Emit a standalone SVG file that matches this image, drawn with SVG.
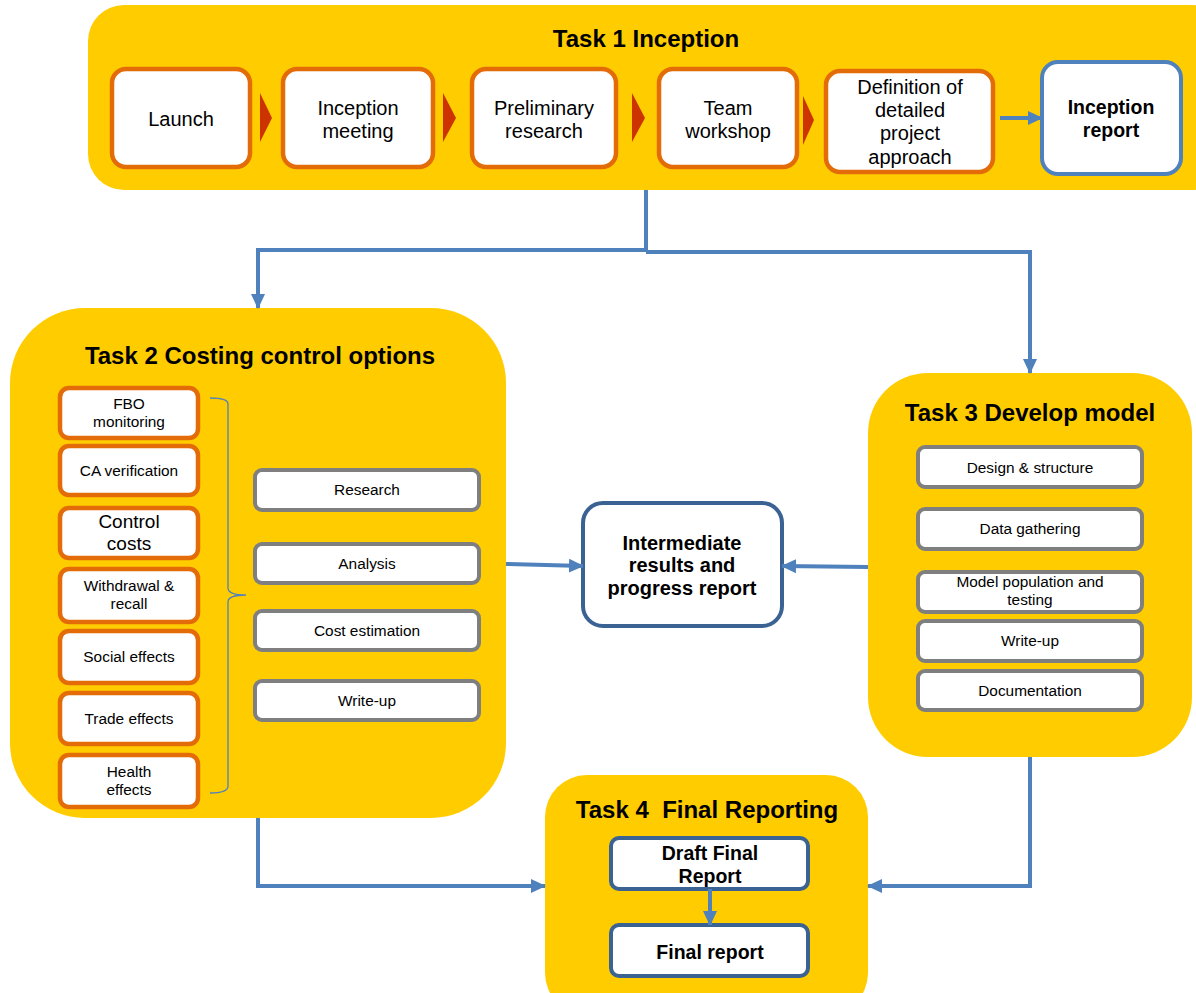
<svg xmlns="http://www.w3.org/2000/svg" width="1196" height="993" viewBox="0 0 1196 993">
<style>
.task{fill:#FFCC00;}
.ob{fill:#fff;stroke:#E36C09;stroke-width:4.5;}
.gb{fill:#fff;stroke:#7F7F7F;stroke-width:4;}
.bb{fill:#fff;stroke:#4F81BD;stroke-width:4;}
.db{fill:#fff;stroke:#3A6293;stroke-width:4;}
.title{font-family:"Liberation Sans",Arial,sans-serif;font-weight:bold;font-size:24px;fill:#000;text-anchor:middle;}
.t18{font-family:"Liberation Sans",Arial,sans-serif;font-size:20px;fill:#000;text-anchor:middle;}
.t18b{font-family:"Liberation Sans",Arial,sans-serif;font-size:19.5px;font-weight:bold;fill:#000;text-anchor:middle;}
.t14{font-family:"Liberation Sans",Arial,sans-serif;font-size:15.4px;fill:#000;text-anchor:middle;}
.conn{fill:none;stroke:#4F81BD;stroke-width:4;}
.chev{fill:#CC3300;}
</style>
<defs>
<marker id="ah" markerUnits="userSpaceOnUse" markerWidth="16" markerHeight="16" viewBox="0 0 16 16" refX="14" refY="8" orient="auto">
<path d="M0,1 L15,8 L0,15 Z" fill="#4F81BD"/>
</marker>
</defs>
<rect width="1196" height="993" fill="#fff"/>

<g id="task1">
<rect class="task" x="88" y="5" width="1140" height="185" rx="36"/>
<text class="title" x="646" y="47">Task 1 Inception</text>
</g>
<g id="launch">
<rect class="ob" x="112" y="69" width="138" height="98" rx="14"/>
<text class="t18" x="181" y="126">Launch</text>
</g>
<g id="inception-meeting">
<rect class="ob" x="283" y="69" width="150" height="98" rx="14"/>
<text class="t18" x="358" y="115">Inception</text>
<text class="t18" x="358" y="138">meeting</text>
</g>
<g id="preliminary-research">
<rect class="ob" x="472" y="69" width="144" height="98" rx="14"/>
<text class="t18" x="544" y="115">Preliminary</text>
<text class="t18" x="544" y="138">research</text>
</g>
<g id="team-workshop">
<rect class="ob" x="659" y="69" width="138" height="98" rx="14"/>
<text class="t18" x="728" y="115">Team</text>
<text class="t18" x="728" y="138">workshop</text>
</g>
<g id="definition">
<rect class="ob" x="826" y="71" width="167" height="101" rx="14"/>
<text class="t18" x="910" y="94">Definition of</text>
<text class="t18" x="910" y="117">detailed</text>
<text class="t18" x="910" y="140">project</text>
<text class="t18" x="910" y="164">approach</text>
</g>
<g id="inception-report">
<rect class="bb" x="1042" y="62" width="139" height="112" rx="16"/>
<text class="t18b" x="1111" y="114">Inception</text>
<text class="t18b" x="1111" y="137">report</text>
</g>
<g id="chevrons">
<path class="chev" d="M260,93 L272,118 L260,142 Z"/>
<path class="chev" d="M443,93 L456,118 L443,142 Z"/>
<path class="chev" d="M632,93 L645,118 L632,142 Z"/>
<path class="chev" d="M803,96 L814,120 L803,145 Z"/>
</g>

<g id="task2">
<rect class="task" x="10" y="308" width="496" height="510" rx="75"/>
<text class="title" x="260" y="364">Task 2 Costing control options</text>
</g>
<g id="fbo"><rect class="ob" x="60" y="388" width="138" height="50" rx="9"/><text class="t14" x="129" y="409">FBO</text><text class="t14" x="129" y="427">monitoring</text></g>
<g id="ca"><rect class="ob" x="60" y="446" width="138" height="49" rx="9"/><text class="t14" x="129" y="476">CA verification</text></g>
<g id="control"><rect class="ob" x="60" y="508" width="138" height="50" rx="9"/><text class="t18" x="129" y="528" style="font-size:19px">Control</text><text class="t18" x="129" y="550" style="font-size:19px">costs</text></g>
<g id="withdrawal"><rect class="ob" x="60" y="569" width="138" height="53" rx="9"/><text class="t14" x="129" y="591">Withdrawal &amp;</text><text class="t14" x="129" y="609">recall</text></g>
<g id="social"><rect class="ob" x="60" y="631" width="138" height="52" rx="9"/><text class="t14" x="129" y="662">Social effects</text></g>
<g id="trade"><rect class="ob" x="60" y="693" width="138" height="51" rx="9"/><text class="t14" x="129" y="724">Trade effects</text></g>
<g id="health"><rect class="ob" x="60" y="755" width="138" height="52" rx="9"/><text class="t14" x="129" y="777">Health</text><text class="t14" x="129" y="795">effects</text></g>
<g id="bracket">
<path d="M210,398 Q228,398 228,404 L228,588 Q228,595 246,595 Q228,595 228,602 L228,786 Q228,793 210,793" fill="none" stroke="#4F81BD" stroke-width="1.3"/>
</g>
<g id="research"><rect class="gb" x="255" y="470" width="224" height="40" rx="7"/><text class="t14" x="367" y="495">Research</text></g>
<g id="analysis"><rect class="gb" x="255" y="544" width="224" height="39" rx="7"/><text class="t14" x="367" y="569">Analysis</text></g>
<g id="cost"><rect class="gb" x="255" y="611" width="224" height="39" rx="7"/><text class="t14" x="367" y="636">Cost estimation</text></g>
<g id="writeup2"><rect class="gb" x="255" y="681" width="224" height="39" rx="7"/><text class="t14" x="367" y="706">Write-up</text></g>

<g id="intermediate">
<rect class="db" x="583" y="503" width="199" height="123" rx="20"/>
<text class="t18b" x="682" y="550" style="font-size:20px">Intermediate</text>
<text class="t18b" x="682" y="572" style="font-size:20px">results and</text>
<text class="t18b" x="682" y="595" style="font-size:20px">progress report</text>
</g>

<g id="task3">
<rect class="task" x="868" y="373" width="324" height="384" rx="60"/>
<text class="title" x="1030" y="421">Task 3 Develop model</text>
</g>
<g id="design"><rect class="gb" x="918" y="447" width="224" height="40" rx="7"/><text class="t14" x="1030" y="473">Design &amp; structure</text></g>
<g id="data"><rect class="gb" x="918" y="509" width="224" height="40" rx="7"/><text class="t14" x="1030" y="534">Data gathering</text></g>
<g id="model"><rect class="gb" x="918" y="572" width="224" height="40" rx="7"/><text class="t14" x="1030" y="587">Model population and</text><text class="t14" x="1030" y="605">testing</text></g>
<g id="writeup3"><rect class="gb" x="918" y="621" width="224" height="40" rx="7"/><text class="t14" x="1030" y="646">Write-up</text></g>
<g id="documentation"><rect class="gb" x="918" y="671" width="224" height="39" rx="7"/><text class="t14" x="1030" y="696">Documentation</text></g>

<g id="task4">
<rect class="task" x="545" y="775" width="323" height="240" rx="42"/>
<text class="title" x="707" y="818" xml:space="preserve">Task 4  Final Reporting</text>
</g>
<g id="draft"><rect class="db" x="611" y="838" width="197" height="51" rx="8"/><text class="t18b" x="710" y="860">Draft Final</text><text class="t18b" x="710" y="883">Report</text></g>
<g id="final"><rect class="db" x="611" y="925" width="197" height="51" rx="8"/><text class="t18b" x="710" y="959">Final report</text></g>

<g id="connectors">
<path class="conn" d="M1000,118 L1042,118" marker-end="url(#ah)"/>
<path class="conn" d="M646,190 L646,251" />
<path class="conn" d="M646,250 L258,250 L258,308" marker-end="url(#ah)"/>
<path class="conn" d="M646,252 L1030,252 L1030,373" marker-end="url(#ah)"/>
<path class="conn" d="M506,564 L583,566" marker-end="url(#ah)"/>
<path class="conn" d="M868,567 L782,566" marker-end="url(#ah)"/>
<path class="conn" d="M258,818 L258,886 L545,886" marker-end="url(#ah)"/>
<path class="conn" d="M1030,757 L1030,886 L868,886" marker-end="url(#ah)"/>
<path class="conn" d="M710,889 L710,925" marker-end="url(#ah)"/>
</g>
</svg>
